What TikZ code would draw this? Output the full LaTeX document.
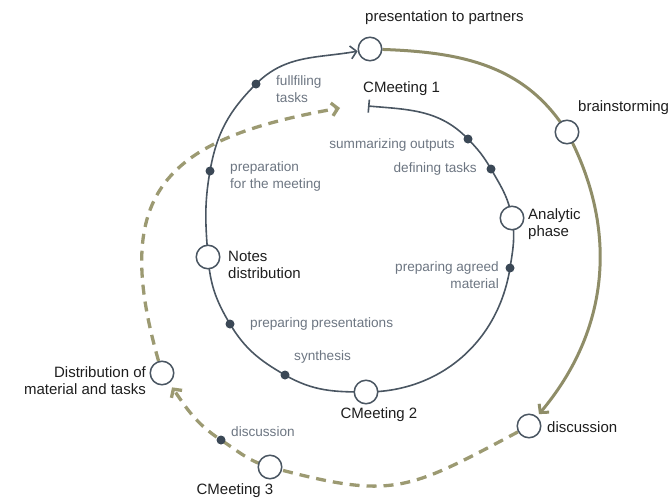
\documentclass[tikz,border=0pt]{standalone}
\usepackage{fontspec}
\setmainfont{Liberation Sans}
\usetikzlibrary{arrows.meta,backgrounds}
\definecolor{slate}{HTML}{4A5662}
\definecolor{dotc}{HTML}{3B4856}
\definecolor{graytxt}{HTML}{6D7682}
\definecolor{olive}{HTML}{8F8D68}
\definecolor{olived}{HTML}{9C9A72}
\definecolor{blk}{HTML}{1E1E1E}
\begin{document}
\begin{tikzpicture}[x=1pt,y=1pt,
  stage/.style={circle,draw=slate,line width=1.5pt,fill=white,minimum size=23.5pt,inner sep=0pt},
  pt/.style={circle,fill=dotc,minimum size=9pt,inner sep=0pt},
  blab/.style={text=blk,font=\fontsize{15}{17}\selectfont,inner sep=0pt},
  glab/.style={text=graytxt,font=\fontsize{13.6}{17}\selectfont,inner sep=0pt},
  darkline/.style={draw=slate,line width=1.6pt},
  oliveline/.style={draw=olive,line width=3pt},
  dashline/.style={draw=olived,line width=3.3pt,dash pattern=on 10pt off 7pt},
  barbtip/.style={-{Straight Barb[length=6pt,width=13pt]}},
]
\useasboundingbox (0,0) rectangle (671,-498);
% stage circles
\node[stage] (pres) at (370,-49) {};
\node[stage] (brain) at (567,-132) {};
\node[stage] (disc) at (529,-426) {};
\node[stage] (cm3) at (270,-467) {};
\node[stage] (distr) at (162,-373) {};
\node[stage] (notes) at (208,-257) {};
\node[stage] (cm2) at (366,-392) {};
\node[stage] (anal) at (512,-218) {};
\coordinate (cm1) at (368,-106);
\coordinate (dashend) at (340,-108);
% dots
\node[pt] (d1) at (468,-139) {};
\node[pt] (d2) at (491,-169) {};
\node[pt] (d3) at (510,-268) {};
\node[pt] (d4) at (285,-375) {};
\node[pt] (d5) at (230,-324) {};
\node[pt] (d6) at (210,-171) {};
\node[pt] (d7) at (256,-84) {};
\node[pt] (d8) at (221,-440) {};
% connectors
\begin{scope}[on background layer]
\draw[darkline,{Bar[width=13pt]}-{Straight Barb[length=6pt,width=13pt]}]
  (cm1) to[out=-5,in=134] (d1.center) to[out=-46,in=120] (d2.center)
  to[out=-60,in=100] (anal.center) to[out=-80,in=81] (d3.center)
  to[out=-99,in=0] (cm2.center) to[out=180,in=-30] (d4.center)
  to[out=150,in=-59] (d5.center) to[out=121,in=-85.5] (notes.center)
  to[out=94.5,in=-100] (d6.center) to[out=80,in=-135] (d7.center)
  to[out=45,in=190] (pres);
\draw[oliveline,barbtip,shorten >=3pt] (pres) to[out=-2,in=122] (brain.center) to[out=-62,in=50] (disc);
\draw[dashline,barbtip,shorten >=5pt] (disc) to[out=-152,in=-15,looseness=1.3] (cm3.center)
  to[out=165,in=-33] (d8.center) to[out=147,in=-55] (distr);
\draw[dashline,barbtip] (distr) to[out=106,in=190,looseness=1.45] (dashend);
\end{scope}
% labels
\node[blab,anchor=west] (lpres) at (365,-18) {presentation to partners};
\node[blab,anchor=west] (lbrain) at (578,-108) {brainstorming};
\node[blab,anchor=west] (ldisc) at (547,-427) {discussion};
\node[blab] (lcm3) at (235,-491) {CMeeting 3};
\node[blab,anchor=east,align=right] (ldistr) at (146,-381) {Distribution of\\material and tasks};
\node[blab,anchor=west,align=left] (lnotes) at (228,-264.5) {Notes\\distribution};
\node[blab] (lcm2) at (379,-415) {CMeeting 2};
\node[blab,anchor=west,align=left] (lanal) at (528,-224.5) {Analytic\\phase};
\node[blab,anchor=west] (lcm1) at (363,-89) {CMeeting 1};
\node[glab,anchor=west,align=left] (l7) at (276,-89.5) {fullfiling\\tasks};
\node[glab,anchor=east] (l1) at (455,-145) {summarizing outputs};
\node[glab,anchor=east] (l2) at (477,-169) {defining tasks};
\node[glab,anchor=east,align=right] (l3) at (499,-275.5) {preparing agreed\\material};
\node[glab,anchor=west] (l5) at (250,-324) {preparing presentations};
\node[glab,anchor=west] (l4) at (294,-357) {synthesis};
\node[glab,anchor=west,align=left] (l6) at (230,-176.5) {preparation\\for the meeting};
\node[glab,anchor=west] (l8) at (231,-432) {discussion};
\end{tikzpicture}
\end{document}
